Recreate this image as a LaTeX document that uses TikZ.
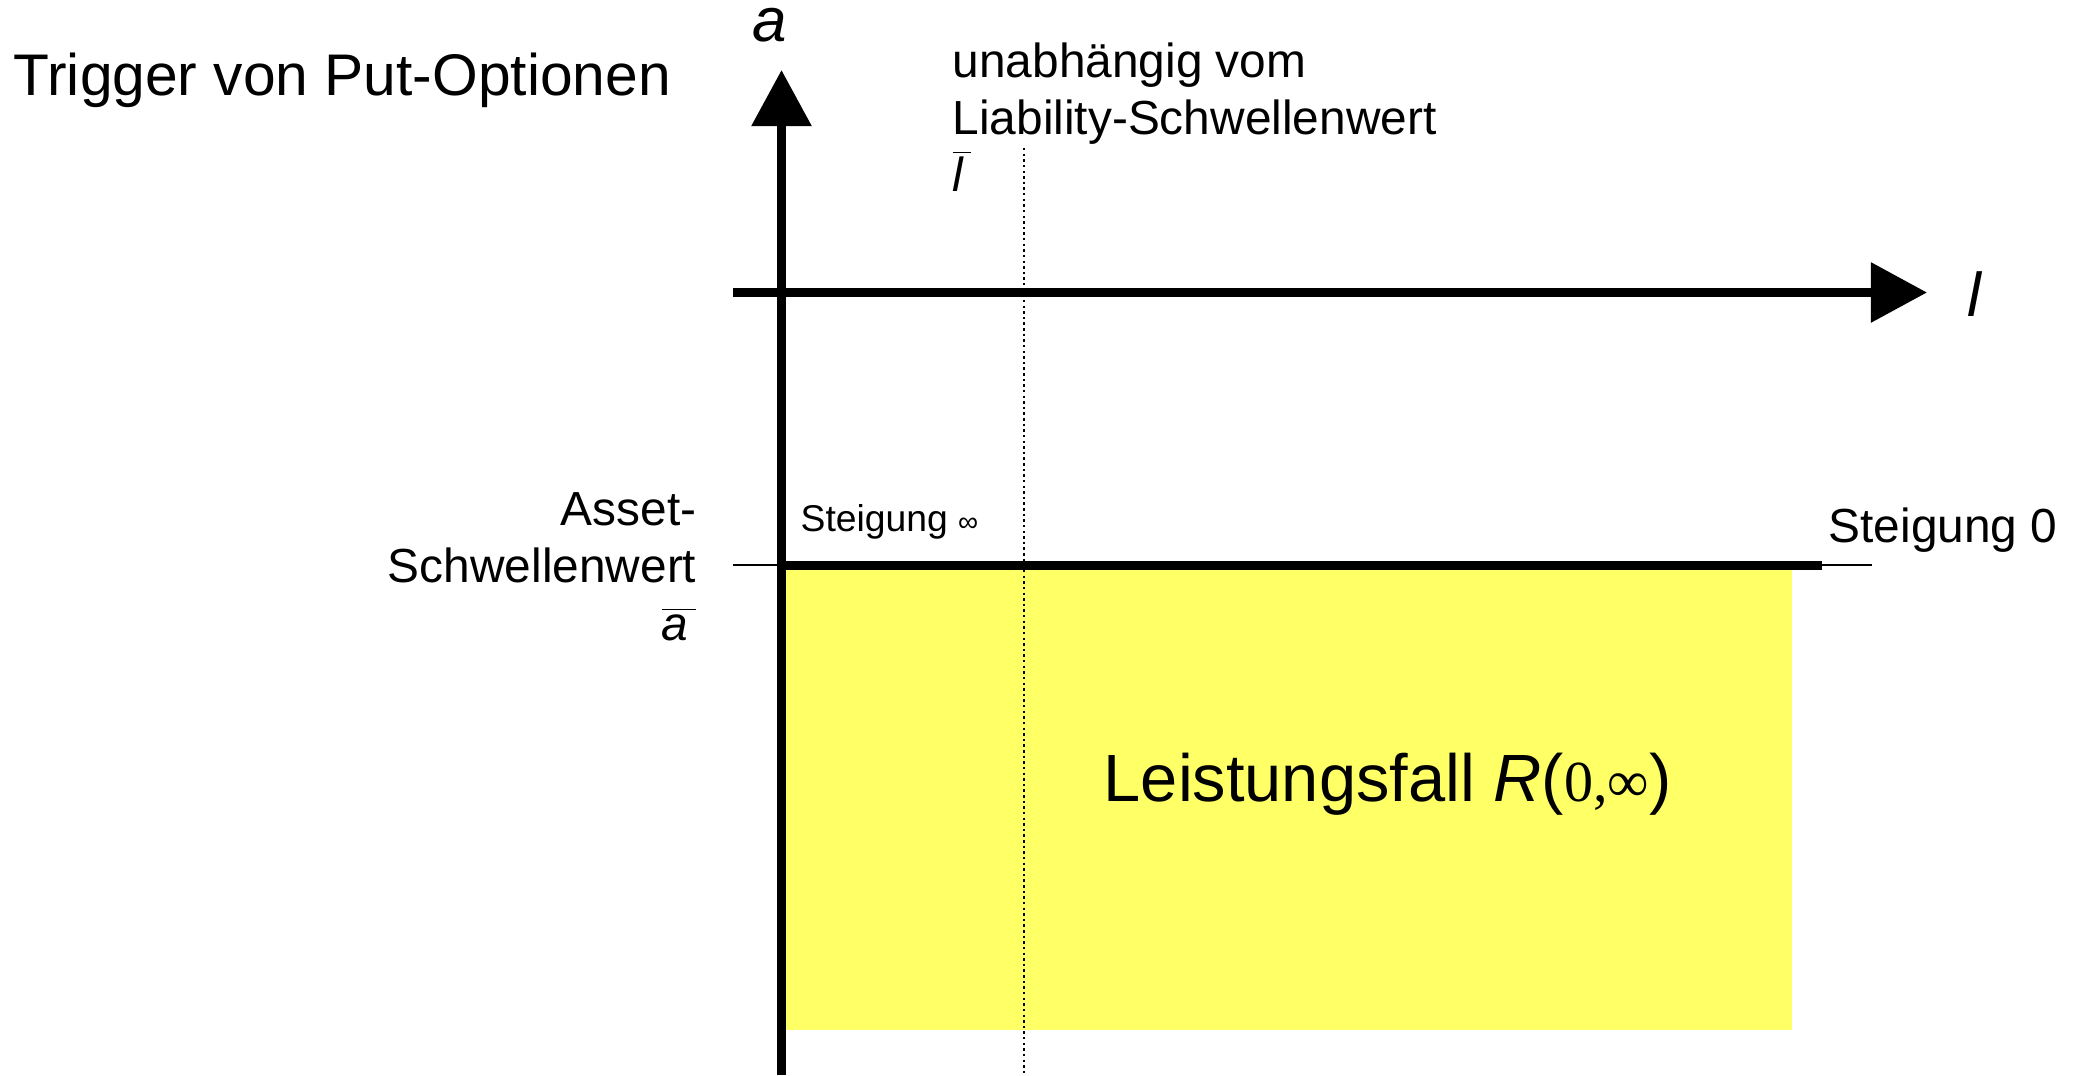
\documentclass[tikz,border=0pt]{standalone}
\usepackage{fontspec}
\setmainfont{Liberation Sans}
\newfontfamily\serifnum{Liberation Serif}
\usetikzlibrary{positioning, arrows.meta, calc}
\newcommand{\barsym}[1]{$\overline{\mbox{\itshape #1\,}}$}
\definecolor{payfill}{RGB}{255,255,102}

\begin{document}
\begin{tikzpicture}[
    x=0.01cm, y=0.01cm,
    axis/.style={
        line width=0.09cm,
        -{Triangle[length=0.56cm,width=0.58cm]}
    },
    thickline/.style={line width=0.09cm},
    thinline/.style={line width=0.4pt},
    guide/.style={line width=0.5pt, dash pattern=on 0.7pt off 0.9pt},
    lbl/.style={inner sep=0pt, font=\fontsize{13.6}{16.3}\selectfont},
    axlbl/.style={inner sep=0pt, font=\fontsize{17.6}{20}\selectfont\itshape}
]
    \useasboundingbox (0,0) rectangle (2082,1075);

    % --- key points ---
    \coordinate (ybot)  at (781.5,0);
    \coordinate (ytip)  at (781.5,1005);
    \coordinate (xleft) at (733,782.5);
    \coordinate (xtip)  at (1927,782.5);
    \coordinate (lbar_top) at (1024,927);
    \coordinate (lbar_bot) at (1024,0);
    \coordinate (athin_l)  at (733,510);
    \coordinate (athin_r)  at (1872,510);
    \coordinate (athick_l) at (781.5,509.5);
    \coordinate (athick_r) at (1822,509.5);

    % --- payoff region ---
    \fill[payfill] (781.5,45) rectangle (1792,505);

    % --- thresholds ---
    \draw[guide] (lbar_top) -- (lbar_bot);
    \draw[thinline] (athin_l) -- (athin_r);
    \draw[thickline] (athick_l) -- (athick_r);

    % --- axes ---
    \draw[axis] (ybot) -- (ytip);
    \draw[axis] (xleft) -- (xtip);
    \node[axlbl, anchor=base] (alabel) at (770,1033) {a};
    \node[axlbl, anchor=base] (llabel) at (1974,758) {l};

    % --- texts ---
    \node[inner sep=0pt, anchor=base west, font=\fontsize{16.7}{20}\selectfont]
        (title) at (13,979) {Trigger von Put-Optionen};

    % base anchor sits on the last line
    \node[lbl, anchor=base west, align=left] (lthresh) at (952,883) {%
        unabhängig vom\\
        Liability-Schwellenwert\\
        \barsym{l}
    };

    \node[lbl, anchor=base east, align=right] (athresh) at (697,435) {%
        Asset-\\
        Schwellenwert\\
        \barsym{a}
    };

    \node[inner sep=0pt, anchor=base west, font=\fontsize{10.6}{12}\selectfont]
        (slopeinf) at (800,544) {Steigung {\fontsize{8}{9}\selectfont ∞}};
    \node[lbl, anchor=base west] (slopezero) at (1828,533) {Steigung 0};

    \node[inner sep=0pt, anchor=base west, font=\fontsize{19}{22}\selectfont]
        (payout) at (1103,274) {Leistungsfall \textit{R}({\serifnum\fontsize{16.5}{20}\selectfont 0,∞})};

\end{tikzpicture}
\end{document}
